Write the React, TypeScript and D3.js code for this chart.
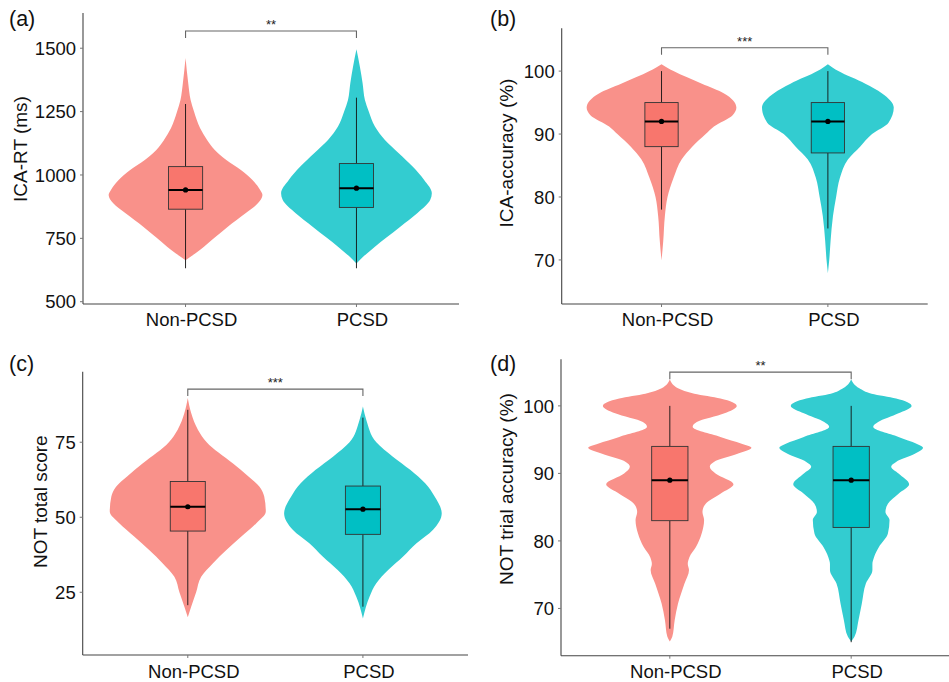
import * as d3 from "d3";

const groups = ["Non-PCSD", "PCSD"];
const boxFills = ["#F8766D", "#00BFC4"];
const violinFills = ["#F9918A", "#33CCD0"];
const panelLabels = ["(a)", "(b)", "(c)", "(d)"];
const yTitles = ["ICA-RT (ms)", "ICA-accuracy (%)", "NOT total score", "NOT trial accuracy (%)"];
const sigLabels = ["**", "***", "***", "**"];
const sigHeights = [1568, 103.7, 92.7, 105.0];

// (a) ICA-RT
const rtTicks = [500, 750, 1000, 1250, 1500];
const rtNonY = [664, 691, 717, 753, 796, 849, 888, 921, 941, 980, 1020, 1059, 1099, 1138, 1184, 1250, 1296, 1362, 1461];
const rtNonW = [0, 0.13, 0.24, 0.38, 0.55, 0.78, 0.94, 1, 0.97, 0.87, 0.72, 0.53, 0.38, 0.28, 0.19, 0.11, 0.066, 0.035, 0];
const rtPcsdY = [651, 678, 717, 753, 796, 849, 902, 928, 980, 1033, 1086, 1138, 1191, 1250, 1296, 1362, 1428, 1496];
const rtPcsdW = [0, 0.09, 0.24, 0.39, 0.57, 0.79, 0.96, 0.98, 0.88, 0.73, 0.55, 0.37, 0.24, 0.16, 0.11, 0.08, 0.044, 0];
// [lower whisker, q1, median, q3, upper whisker, mean]
const rtNonBox = [632, 865, 941, 1033, 1280, 941];
const rtPcsdBox = [632, 872, 948, 1045, 1305, 948];

// (b) ICA-accuracy
const accTicks = [70, 80, 90, 100];
const accNonY = [69.9, 73, 77, 80, 83, 86, 88, 90, 91.2, 93, 94.2, 96.5, 98, 100, 101.1];
const accNonW = [0, 0.023, 0.045, 0.08, 0.16, 0.27, 0.41, 0.59, 0.7, 0.95, 1, 0.83, 0.54, 0.16, 0];
const accPcsdY = [67.9, 70, 73, 77, 80, 83, 86, 88, 90, 91.8, 94.2, 96.5, 98, 100, 101.1];
const accPcsdW = [0, 0.018, 0.036, 0.068, 0.11, 0.16, 0.27, 0.43, 0.59, 0.81, 0.88, 0.72, 0.5, 0.14, 0];
const accNonBox = [78, 88, 92, 95, 100, 92];
const accPcsdBox = [75, 87, 92, 95, 100, 92];

// (c) NOT total score
const notTicks = [25, 50, 75];
const notNonY = [16.7, 20.2, 25, 30.2, 34.7, 39.1, 43.6, 48, 51.9, 56.9, 60.2, 63.6, 68, 75, 79.1, 84.7, 89.7];
const notNonW = [0, 0.043, 0.106, 0.17, 0.32, 0.49, 0.68, 0.87, 0.99, 0.97, 0.91, 0.77, 0.57, 0.24, 0.13, 0.043, 0];
const notPcsdY = [16.3, 23.6, 28, 32.4, 36.9, 41.3, 45.8, 51.3, 56.9, 61.3, 65.8, 70.2, 75, 82.4, 86.9];
const notPcsdW = [0, 0.085, 0.17, 0.32, 0.51, 0.68, 0.89, 1, 0.91, 0.79, 0.6, 0.38, 0.17, 0.043, 0];
const notNonBox = [20.7, 45.4, 53.5, 61.9, 85.8, 53.5];
const notPcsdBox = [20.2, 44.3, 52.7, 60.4, 83.2, 52.7];

// (d) NOT trial accuracy
const trialTicks = [70, 80, 90, 100];
const trialY = [65.1, 65.8, 68.3, 70.7, 73.7, 75.7, 76.6, 77.6, 79.1, 81.1, 83.1, 84.3, 85.5, 87, 88.4, 90, 91, 91.7, 92.9, 93.8, 94.4, 95.4, 96.9, 97.6, 98.9, 100, 101.1, 101.8, 102.6, 103.9];
const trialNonW = [0, 0.03, 0.06, 0.1, 0.18, 0.235, 0.22, 0.24, 0.32, 0.39, 0.42, 0.4, 0.44, 0.62, 0.78, 0.56, 0.49, 0.54, 0.83, 1, 0.88, 0.62, 0.28, 0.33, 0.67, 0.82, 0.62, 0.3, 0.1, 0];
const trialPcsdW = [0, 0.04, 0.09, 0.13, 0.18, 0.26, 0.26, 0.28, 0.34, 0.45, 0.47, 0.42, 0.45, 0.58, 0.71, 0.58, 0.49, 0.55, 0.78, 0.88, 0.8, 0.58, 0.27, 0.33, 0.58, 0.74, 0.55, 0.25, 0.1, 0];
const trialNonBox = [67, 83, 89, 94, 100, 89];
const trialPcsdBox = [65, 82, 89, 94, 100, 89];

type Violin = { ys: number[]; ws: number[]; box: number[] };
type Panel = {
  ticks: number[];
  domain: [number, number];
  violins: Violin[];
  // layout
  left: number; right: number; top: number; bottom: number;
  titleX: number; titleY: number; labelX: number; labelY: number; xLabelY: number;
};

const panels: Panel[] = [
  {
    ticks: rtTicks, domain: [491, 1639],
    violins: [{ ys: rtNonY, ws: rtNonW, box: rtNonBox }, { ys: rtPcsdY, ws: rtPcsdW, box: rtPcsdBox }],
    left: 83, right: 459, top: 13, bottom: 304,
    titleX: 20, titleY: 149, labelX: 9, labelY: 26, xLabelY: 326,
  },
  {
    ticks: accTicks, domain: [63, 106.8],
    violins: [{ ys: accNonY, ws: accNonW, box: accNonBox }, { ys: accPcsdY, ws: accPcsdW, box: accPcsdBox }],
    left: 561.7, right: 927.7, top: 28.3, bottom: 304,
    titleX: 506.7, titleY: 153, labelX: 490, labelY: 26, xLabelY: 326,
  },
  {
    ticks: notTicks, domain: [4.1, 98.5],
    violins: [{ ys: notNonY, ws: notNonW, box: notNonBox }, { ys: notPcsdY, ws: notPcsdW, box: notPcsdBox }],
    left: 82.7, right: 468, top: 371.7, bottom: 655,
    titleX: 40, titleY: 501.7, labelX: 9, labelY: 371, xLabelY: 678,
  },
  {
    ticks: trialTicks, domain: [63, 106.9],
    violins: [{ ys: trialY, ws: trialNonW, box: trialNonBox }, { ys: trialY, ws: trialPcsdW, box: trialPcsdBox }],
    left: 561, right: 960, top: 359.3, bottom: 655.7,
    titleX: 506.7, titleY: 489, labelX: 490, labelY: 371, xLabelY: 678,
  },
];

const font = "'Liberation Sans', Arial, sans-serif";

function PanelView({ p, i }: { p: Panel; i: number }) {
  const x = d3.scalePoint<string>().domain(groups).range([p.left, p.right]).padding(0.6);
  const step = x.step();
  const y = d3.scaleLinear().domain(p.domain).range([p.bottom, p.top]);
  const x1 = x(groups[0])!;
  const x2 = x(groups[1])!;
  const sy = y(sigHeights[i]);

  return (
    <g>
      {p.violins.map((v, gi) => {
        const cx = x(groups[gi])!;
        const pts = v.ys.map((yy, k) => [yy, v.ws[k]] as [number, number]);
        const area = d3
          .area<[number, number]>()
          .y((d) => y(d[0]))
          .x0((d) => cx - d[1] * 0.45 * step)
          .x1((d) => cx + d[1] * 0.45 * step)
          .curve(d3.curveMonotoneY);
        const [lo, q1, med, q3, hi, mean] = v.box;
        const bw = 0.1 * step;
        return (
          <g key={gi}>
            <path d={area(pts) || ""} fill={violinFills[gi]} />
            <line x1={cx} x2={cx} y1={y(hi)} y2={y(q3)} stroke="#111" strokeWidth={0.9} />
            <line x1={cx} x2={cx} y1={y(q1)} y2={y(lo)} stroke="#111" strokeWidth={0.9} />
            <rect x={cx - bw} y={y(q3)} width={2 * bw} height={y(q1) - y(q3)} fill={boxFills[gi]} stroke="#333" strokeWidth={0.9} />
            <line x1={cx - bw} x2={cx + bw} y1={y(med)} y2={y(med)} stroke="#000" strokeWidth={2} />
            <circle cx={cx} cy={y(mean)} r={2.6} fill="#000" />
          </g>
        );
      })}
      {/* significance bracket */}
      <path d={`M${x1},${sy + 7}V${sy}H${x2}V${sy + 7}`} fill="none" stroke="#666" strokeWidth={1.1} />
      <text x={(x1 + x2) / 2} y={sy - 2} textAnchor="middle" fontSize={13} fill="#222" fontFamily={font}>
        {sigLabels[i]}
      </text>
      {/* axes */}
      <line x1={p.left} x2={p.left} y1={p.top} y2={p.bottom} stroke="#444" strokeWidth={1.1} />
      <line x1={p.left} x2={p.right} y1={p.bottom} y2={p.bottom} stroke="#444" strokeWidth={1.1} />
      {p.ticks.map((t) => (
        <g key={t}>
          <line x1={p.left - 3} x2={p.left} y1={y(t)} y2={y(t)} stroke="#777" strokeWidth={1} />
          <text x={p.left - 7} y={y(t)} dy="0.36em" textAnchor="end" fontSize={18.5} fill="#111" fontFamily={font}>
            {t}
          </text>
        </g>
      ))}
      {groups.map((g) => (
        <g key={g}>
          <line x1={x(g)!} x2={x(g)!} y1={p.bottom} y2={p.bottom + 3} stroke="#777" strokeWidth={1} />
          <text x={x(g)! + 6} y={p.xLabelY} textAnchor="middle" fontSize={18.5} fill="#111" fontFamily={font}>
            {g}
          </text>
        </g>
      ))}
      <text
        transform={`translate(${p.titleX},${p.titleY}) rotate(-90)`}
        textAnchor="middle"
        dy="0.35em"
        fontSize={19}
        fill="#111"
        fontFamily={font}
      >
        {yTitles[i]}
      </text>
      <text x={p.labelX} y={p.labelY} fontSize={21.5} fill="#111" fontFamily={font}>
        {panelLabels[i]}
      </text>
    </g>
  );
}

export default function App() {
  return (
    <svg
      width={949}
      height={682}
      style={{ position: "absolute", left: 0, top: 0, background: "#fff" }}
    >
      <rect width={949} height={682} fill="#fff" />
      {panels.map((p, i) => (
        <PanelView key={i} p={p} i={i} />
      ))}
    </svg>
  );
}
